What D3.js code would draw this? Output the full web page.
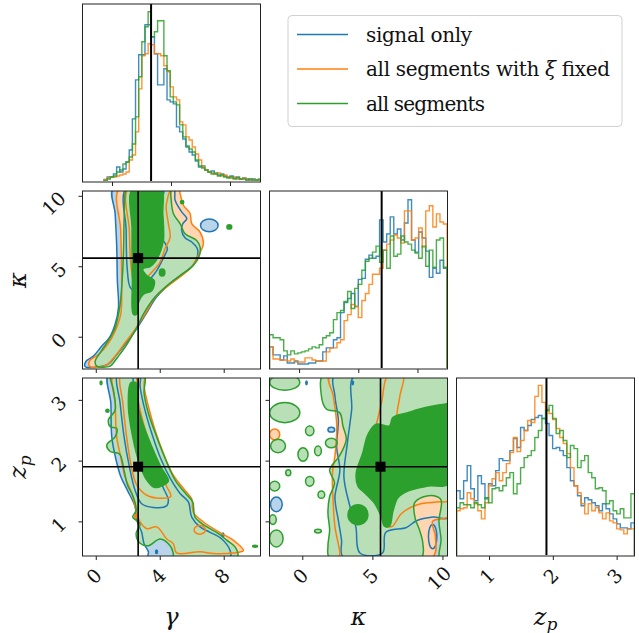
<!DOCTYPE html>
<html>
<head>
<meta charset="utf-8">
<script src="https://cdn.jsdelivr.net/npm/d3@7"></script>
<style>
  body { margin: 0; background: #fff; }
  svg { display: block; }
</style>
</head>
<body>
<svg id="canvas"></svg>
<script>
// ---- data ----
const seriesNames = ["signal only", "all segments with \u03be fixed", "all segments"];
const seriesColors = ["#1f77b4", "#ff7f0e", "#2ca02c"];
const lightFills = ["#b9d3e8", "#ffd5b2", "#b8dfb6"];
const legendWidths = [106, 244, 119];

const truthGamma = 2.65, truthKappa = 5.58, truthZp = 1.9;

// histogram bin ranges (in each diagonal panel's own units)
const gammaBinRange = [-0.54, 10.14];
const kappaBinRange = [-2.0, 10.0];
const zpBinRange = [0.49, 3.28];

// histogram heights (50 bins)
const gammaBlue = [2.5,5,5,8,15,10,13,20,32,63,102,127,127,157,157,145,128,97,97,113,82,80,78,55,50,43,35,30,27,21,15,16,12,10,11,8,7,8,6,5,6,4,5,3,4,3,2,3,2,2];
const gammaOrange = [2,4,5,5,6,7,8,10,22,27,50,93,126,128,138,137,128,128,126,116,110,95,85,82,60,57,45,42,35,28,22,15,12,10,9,8,9,6,7,5,4,5,3,3,4,2,3,2,2,2];
const gammaGreen = [1,3,5,6,10,12,18,20,25,38,65,105,140,155,170,145,150,161,161,126,111,85,80,77,57,45,36,33,30,22,16,14,12,10,8,9,6,7,5,4,5,3,4,3,3,2,3,2,2,3];

const kappaBlue = [22,14,14,9,13,6,6,8,5,5,5,6,6,8,8,17,21,21,29,31,56,66,70,75,62,89,90,109,113,110,112,148,126,134,151,134,139,128,145,168,128,116,136,130,117,91,100,95,108,100];
const kappaOrange = [22,10,10,9,9,8,10,7,7,7,11,11,9,8,8,8,17,21,21,26,29,48,54,64,62,51,68,75,84,94,94,100,118,124,128,133,130,125,157,157,128,130,140,121,157,162,141,154,146,144];
const kappaGreen = [34,31,31,29,18,14,18,15,16,17,18,20,22,21,24,31,33,36,49,56,58,67,77,60,80,84,98,107,110,116,122,106,118,100,132,112,114,132,126,124,118,115,110,122,102,118,101,128,130,101];

const zpBlue = [65,57,75,90,67,55,80,72,57,72,70,85,97,95,95,105,117,108,128,125,130,136,138,140,137,132,120,107,108,105,100,88,75,70,60,50,58,56,53,50,45,52,47,42,37,32,28,28,27,33];
const zpOrange = [45,47,48,63,57,52,45,37,53,70,77,83,75,83,92,103,118,104,115,125,135,133,159,170,153,146,142,136,127,118,112,102,88,70,63,52,42,52,45,48,43,37,43,35,33,27,26,22,27,27];
const zpGreen = [48,53,51,51,48,53,51,48,58,53,67,68,65,70,78,83,62,72,88,98,100,105,118,125,137,145,150,137,122,125,115,98,110,107,88,95,100,83,78,67,68,65,52,55,45,42,47,38,38,62];

// contour outlines, [x, y] in data units
const kgBlueOuter = [[1.10,10.52],[1.21,8.74],[1.31,6.36],[1.35,3.98],[1.42,2.07],[1.21,0.88],[0.85,-0.07],[0.37,-0.67],[-0.15,-1.38],[-0.61,-1.74],[-0.67,-2.12],[-0.04,-2.17],[0.79,-1.93],[1.31,-1.26],[1.98,-0.31],[2.60,0.64],[3.23,1.79],[3.81,2.83],[4.65,3.79],[5.37,4.41],[6.06,5.05],[6.35,5.69],[6.35,6.24],[6.00,6.72],[5.58,7.02],[5.37,7.55],[5.44,8.02],[5.69,8.38],[5.37,8.86],[4.96,9.69],[4.85,10.52]];
const kgBlueInner = [[1.90,10.52],[1.90,7.55],[1.96,4.93],[2.15,3.50],[2.46,3.22],[2.87,3.38],[3.23,3.86],[3.81,4.69],[4.23,5.60],[4.48,6.24],[4.33,6.64],[4.06,7.12],[3.98,8.26],[4.13,9.69],[4.23,10.52]];
const kgOrangeOuter = [[1.48,10.52],[1.56,7.55],[1.62,3.98],[1.56,1.60],[1.21,0.40],[0.73,-0.55],[0.17,-1.26],[-0.40,-1.74],[-0.36,-2.12],[0.65,-2.02],[1.21,-1.38],[1.83,-0.43],[2.46,0.52],[3.08,1.60],[3.71,2.79],[4.54,3.62],[5.37,4.33],[5.98,4.93],[6.35,5.64],[6.73,6.60],[6.52,7.43],[6.00,8.02],[5.90,8.74],[5.48,9.33],[5.27,10.17],[5.17,10.52]];
const kgOrangeInner = [[2.04,10.52],[2.10,7.55],[2.19,5.17],[2.35,3.98],[2.56,3.55],[2.98,3.98],[3.50,4.57],[4.02,5.29],[4.33,6.24],[4.65,7.07],[4.54,8.02],[4.40,9.21],[4.54,10.05],[4.65,10.52]];
const kgGreenOuter = [[0.06,-2.09],[-0.04,-1.74],[0.27,-1.14],[0.90,-0.07],[1.21,0.64],[1.48,1.95],[1.62,3.50],[1.73,5.88],[1.77,8.26],[1.83,10.17],[1.90,10.52],[4.65,10.52],[4.69,10.05],[4.85,8.74],[5.27,8.02],[5.58,7.31],[6.31,6.83],[6.52,6.36],[6.48,5.76],[6.10,5.05],[5.27,4.33],[4.33,3.50],[3.60,2.67],[2.98,1.60],[2.56,0.64],[1.94,-0.55],[1.42,-1.38],[1.10,-1.86],[0.90,-2.09]];
const kgGreenInner = [[2.31,10.52],[4.06,10.52],[4.19,8.74],[4.23,6.83],[4.02,6.00],[3.77,5.41],[3.40,4.98],[2.94,4.81],[3.19,4.33],[3.65,3.98],[3.50,3.26],[2.98,3.02],[2.67,2.43],[2.56,1.60],[2.35,1.60],[2.29,3.98],[2.27,7.55]];
// small islands: [x, y, rx, ry, series, filled-dark]
const kgIslands = [[7.10,7.90,0.55,0.45,0,0],[3.19,9.33,0.28,0.55,0,0],[8.35,7.79,0.15,0.15,2,1],[4.15,4.55,0.17,0.25,2,1],[5.40,9.55,0.1,0.12,2,1]];

const zgBlueOuter = [[0.79,3.41],[0.94,2.95],[1.00,2.39],[1.27,2.01],[1.56,1.74],[1.98,1.51],[2.46,1.24],[2.56,1.02],[2.87,0.82],[3.02,0.63],[3.29,0.50],[3.29,0.41],[8.40,0.41],[8.40,0.52],[7.88,0.71],[7.15,0.82],[6.52,0.91],[6.00,1.07],[5.79,1.32],[5.27,1.46],[4.65,1.71],[4.02,2.06],[3.50,2.45],[3.02,2.89],[2.77,3.22],[2.73,3.41]];
const zgBlueInner = [[1.35,3.41],[1.52,2.95],[1.77,2.39],[2.10,1.90],[2.46,1.51],[2.87,1.29],[3.60,1.23],[4.40,1.25],[4.54,1.35],[4.19,1.57],[3.71,1.95],[3.19,2.34],[2.73,2.78],[2.35,3.17],[2.25,3.41]];
const zgOrangeOuter = [[1.10,3.41],[1.21,2.95],[1.31,2.39],[1.56,2.06],[1.83,1.73],[2.25,1.46],[2.46,1.24],[2.77,0.99],[3.19,0.88],[3.81,0.91],[4.44,0.71],[4.85,0.63],[5.06,0.48],[6.52,0.50],[7.35,0.47],[8.60,0.48],[9.23,0.52],[8.60,0.69],[7.87,0.80],[6.73,0.99],[6.10,1.15],[6.00,1.37],[5.58,1.51],[4.85,1.76],[4.23,2.12],[3.71,2.50],[3.29,2.89],[3.02,3.22],[2.98,3.41]];
const zgOrangeInner = [[1.56,3.41],[1.69,2.95],[1.90,2.45],[2.19,1.95],[2.56,1.60],[3.19,1.43],[4.02,1.38],[4.69,1.41],[4.44,1.57],[3.98,1.84],[3.50,2.17],[2.98,2.61],[2.60,3.06],[2.46,3.41]];
const zgGreenOuter = [[0.94,3.41],[1.10,3.17],[1.21,2.83],[0.79,2.67],[0.90,2.56],[1.31,2.53],[1.21,2.39],[0.69,2.26],[0.90,2.15],[1.48,2.11],[1.77,1.84],[1.98,1.60],[2.35,1.40],[2.52,1.18],[2.31,1.07],[2.77,0.96],[2.52,0.80],[2.77,0.64],[3.29,0.60],[4.02,0.71],[4.65,0.60],[4.85,0.47],[4.85,0.41],[8.85,0.41],[8.71,0.58],[8.19,0.69],[7.67,0.80],[6.83,0.93],[6.21,1.07],[6.06,1.32],[5.58,1.47],[4.96,1.68],[4.33,2.04],[3.81,2.39],[3.29,2.78],[3.02,3.11],[3.02,3.41]];
const zgGreenInner = [[2.19,3.28],[2.04,2.89],[2.31,2.39],[2.73,1.95],[3.19,1.68],[3.65,1.56],[4.27,1.60],[4.54,1.67],[4.06,1.90],[3.50,2.23],[2.94,2.61],[2.60,2.95],[2.52,3.28]];
const zgIslands = [[0.33,3.28,0.06,0.03,2,1],[0.73,2.82,0.1,0.025,2,1],[9.96,0.59,0.15,0.015,2,1],[3.80,0.50,0.06,0.03,0,1],[7.95,0.78,0.06,0.03,0,1],[6.50,0.86,0.35,0.07,1,0],[2.50,1.08,0.06,0.03,1,1]];

const zkBlueOuter = [[2.33,3.41],[2.33,3.06],[2.57,2.67],[2.45,2.23],[2.68,1.84],[2.33,1.40],[2.57,1.02],[2.80,0.69],[2.92,0.41],[10.52,0.41],[10.52,3.41]];
const zkBlueInner = [[3.75,3.41],[3.52,2.83],[3.21,2.28],[2.97,1.73],[3.35,1.29],[3.82,0.91],[4.11,0.48],[5.72,0.48],[5.96,0.82],[7.43,0.90],[8.15,1.01],[9.33,1.07],[10.52,1.07],[10.52,3.41]];
const zkOrangeOuter = [[1.95,3.41],[2.21,3.06],[2.45,2.61],[2.35,2.12],[2.15,1.79],[2.21,1.29],[2.33,0.91],[2.68,0.49],[2.68,0.41],[9.3,0.41],[9.5,0.75],[9.3,1.0],[10.52,1.1],[10.52,3.41]];
const zkOrangeInner = [[6.13,3.41],[5.65,2.95],[5.18,2.50],[4.63,2.06],[4.82,1.73],[5.34,1.40],[5.82,0.99],[6.36,0.91],[7.08,1.13],[8.15,1.27],[9.57,1.32],[10.52,1.35],[10.52,2.17],[9.33,2.23],[8.15,2.34],[7.20,2.31],[6.72,2.61],[6.96,3.06],[7.20,3.41]];
const zkGreenOuter = [[1.59,3.45],[1.36,3.07],[1.71,2.85],[2.66,2.79],[2.90,2.57],[3.14,2.35],[2.66,2.08],[1.95,1.85],[2.30,1.63],[1.95,1.41],[1.83,1.14],[1.95,0.86],[1.83,0.59],[1.95,0.40],[8.48,0.40],[8.60,0.64],[8.36,0.86],[8.05,1.05],[8.00,1.30],[8.60,1.40],[9.40,1.42],[9.90,1.35],[9.75,1.00],[9.90,0.70],[9.80,0.40],[10.52,0.40],[10.52,3.45]];
const zkGreenInner = [[3.85,1.80],[4.32,2.13],[4.68,2.43],[5.27,2.60],[6.22,2.57],[6.46,2.71],[7.53,2.79],[8.72,2.87],[10.14,2.93],[10.52,2.93],[10.52,1.63],[8.95,1.58],[7.53,1.50],[6.82,1.39],[6.46,1.16],[6.22,0.92],[5.86,0.92],[5.63,1.08],[5.15,1.30],[4.44,1.47],[3.97,1.58]];
const zkIslands = [[-1.25,3.29,1.07,0.13,2,0],[-1.25,2.79,1.07,0.165,2,0],[-1.73,2.24,0.53,0.11,2,0],[0.53,2.49,0.30,0.08,2,0],[1.12,2.16,0.24,0.08,2,0],[0.05,2.10,0.36,0.11,2,0],[2.07,2.29,0.42,0.08,2,0],[-1.97,1.58,0.36,0.08,2,0],[0.53,1.66,0.30,0.08,2,0],[-2.10,1.03,0.24,0.08,2,0],[-1.85,0.72,0.48,0.14,2,0],[1.12,0.84,0.24,0.03,2,0],[1.36,1.44,0.24,0.06,2,0],[-1.00,1.80,0.18,0.05,2,0],[-1.85,1.28,0.42,0.12,0,0],[-1.97,2.43,0.36,0.09,1,0],[2.07,2.51,0.24,0.04,0,0],[3.97,1.11,0.71,0.165,2,1],[0.3,3.28,0.05,0.03,0,1],[3.6,3.28,0.05,0.03,0,1],[9.3,0.75,0.3,0.2,0,0]];

// ---- layout ----
const width = 639;
const height = 633;
const panel = 178;
const colX = [82.5, 269.5, 456.5];
const rowY = [4, 191, 378];
const serif = "DejaVu Serif";

const svg = d3.select("#canvas")
    .attr("width", width)
    .attr("height", height);

// scales for the off-diagonal panels
const gamma2D = d3.scaleLinear().domain([-0.83, 10.3]).range([colX[0], colX[0] + panel]);
const kappaX2D = d3.scaleLinear().domain([-2.34, 10.36]).range([colX[1], colX[1] + panel]);
const kappaY2D = d3.scaleLinear().domain([-2.29, 10.34]).range([rowY[1] + panel, rowY[1]]);
const zpY2D = d3.scaleLinear().domain([0.43, 3.36]).range([rowY[2] + panel, rowY[2]]);

// scales for the diagonal histograms
const gammaHistX = d3.scaleLinear().domain([-2, 10.07]).range([colX[0], colX[0] + panel]);
const kappaHistX = d3.scaleLinear().domain([-2, 10.03]).range([colX[1], colX[1] + panel]);
const zpHistX = d3.scaleLinear().domain([0.49, 3.28]).range([colX[2], colX[2] + panel]);

const defs = svg.append("defs");

function clipFor(id, x, y) {
    defs.append("clipPath").attr("id", id)
        .append("rect").attr("x", x).attr("y", y).attr("width", panel).attr("height", panel);
    return `url(#${id})`;
}

function renderHist(id, col, row, xScale, binRange, series, ymax, truth) {
    const x0 = colX[col], y0 = rowY[row];
    const yScale = d3.scaleLinear().domain([0, ymax]).range([y0 + panel, y0]);
    const g = svg.append("g").attr("clip-path", clipFor(id, x0, y0 - 1));
    const n = series[0].length;
    const edge = d3.scaleLinear().domain([0, n]).range(binRange);
    const line = d3.line()
        .x(d => xScale(d[0]))
        .y(d => yScale(d[1]))
        .curve(d3.curveStepAfter);
    series.forEach((vals, k) => {
        const pts = [[edge(0), 0]];
        vals.forEach((v, i) => pts.push([edge(i), v]));
        pts.push([edge(n), vals[n - 1]]);
        pts.push([edge(n), 0]);
        g.append("path")
            .attr("d", line(pts))
            .attr("fill", "none")
            .attr("stroke", seriesColors[k])
            .attr("stroke-width", 1.4)
            .attr("stroke-opacity", 0.85);
    });
    g.append("line")
        .attr("x1", xScale(truth)).attr("x2", xScale(truth))
        .attr("y1", y0).attr("y2", y0 + panel)
        .attr("stroke", "#000").attr("stroke-width", 2);
}

function render2D(id, col, row, xScale, yScale, layers, islands, truth) {
    const x0 = colX[col], y0 = rowY[row];
    const g = svg.append("g").attr("clip-path", clipFor(id, x0, y0));
    const path = d3.line()
        .x(d => xScale(d[0]))
        .y(d => yScale(d[1]))
        .curve(d3.curveCatmullRomClosed.alpha(0.5));
    const islandsOf = k => islands.filter(s => s[4] === k);
    const ellipse = (sel, s) => sel
        .attr("cx", xScale(s[0])).attr("cy", yScale(s[1]))
        .attr("rx", Math.abs(xScale(s[0] + s[2]) - xScale(s[0])))
        .attr("ry", Math.abs(yScale(s[1] + s[3]) - yScale(s[1])));

    // light outer fills
    layers.forEach((layer, k) => {
        g.append("path").attr("d", path(layer.outer))
            .attr("fill", lightFills[k]).attr("stroke", "none");
        islandsOf(k).filter(s => !s[5]).forEach(s => {
            g.append("ellipse").call(ellipse, s).attr("fill", lightFills[k]);
        });
    });
    // blue and orange outlines
    [0, 1].forEach(k => {
        [layers[k].outer, layers[k].inner].forEach(poly => {
            g.append("path").attr("d", path(poly))
                .attr("fill", "none")
                .attr("stroke", seriesColors[k])
                .attr("stroke-width", 1.5);
        });
        islandsOf(k).forEach(s => {
            g.append("ellipse").call(ellipse, s)
                .attr("fill", s[5] ? seriesColors[k] : "none")
                .attr("stroke", seriesColors[k]).attr("stroke-width", 1.5);
        });
    });
    // dark green core and green outlines
    g.append("path").attr("d", path(layers[2].inner))
        .attr("fill", seriesColors[2]).attr("stroke", seriesColors[2]).attr("stroke-width", 1.5);
    g.append("path").attr("d", path(layers[2].outer))
        .attr("fill", "none").attr("stroke", seriesColors[2]).attr("stroke-width", 1.5);
    islandsOf(2).forEach(s => {
        g.append("ellipse").call(ellipse, s)
            .attr("fill", s[5] ? seriesColors[2] : "none")
            .attr("stroke", seriesColors[2]).attr("stroke-width", 1.5);
    });

    g.append("line")
        .attr("x1", xScale(truth[0])).attr("x2", xScale(truth[0]))
        .attr("y1", y0).attr("y2", y0 + panel)
        .attr("stroke", "#000").attr("stroke-width", 1.6);
    g.append("line")
        .attr("x1", x0).attr("x2", x0 + panel)
        .attr("y1", yScale(truth[1])).attr("y2", yScale(truth[1]))
        .attr("stroke", "#000").attr("stroke-width", 1.6);
    g.append("rect")
        .attr("x", xScale(truth[0]) - 5).attr("y", yScale(truth[1]) - 5)
        .attr("width", 10).attr("height", 10)
        .attr("fill", "#000");
}

function frame(col, row) {
    svg.append("rect")
        .attr("x", colX[col]).attr("y", rowY[row])
        .attr("width", panel).attr("height", panel)
        .attr("fill", "none").attr("stroke", "#222").attr("stroke-width", 1);
}

function bottomAxis(col, row, scale, ticks, labelled) {
    const ax = svg.append("g")
        .attr("transform", `translate(0, ${rowY[row] + panel})`)
        .call(d3.axisBottom(scale).tickValues(ticks).tickSize(4).tickSizeOuter(0)
            .tickFormat(labelled ? d3.format("d") : ""));
    ax.select(".domain").remove();
    ax.selectAll("line").attr("stroke", "#222");
    ax.selectAll("text")
        .attr("y", null).attr("dy", null)
        .attr("text-anchor", "middle")
        .attr("dominant-baseline", "central")
        .attr("font-family", serif)
        .attr("font-size", 19)
        .attr("fill", "#111")
        .attr("transform", d => {
            const len = String(d).length;
            return `translate(${-1 - 1.5 * len}, ${18 + 2 * len}) rotate(-45)`;
        });
}

function leftAxis(col, row, scale, ticks, labelled) {
    const ax = svg.append("g")
        .attr("transform", `translate(${colX[col]}, 0)`)
        .call(d3.axisLeft(scale).tickValues(ticks).tickSize(4).tickSizeOuter(0)
            .tickFormat(labelled ? d3.format("d") : ""));
    ax.select(".domain").remove();
    ax.selectAll("line").attr("stroke", "#222");
    ax.selectAll("text")
        .attr("x", null).attr("dy", null)
        .attr("text-anchor", "middle")
        .attr("dominant-baseline", "central")
        .attr("font-family", serif)
        .attr("font-size", 19)
        .attr("fill", "#111")
        .attr("transform", d => {
            const len = String(d).length;
            return `translate(${-19 - 5 * len}, ${len * 4 - 1}) rotate(-45)`;
        });
}

// ---- diagonal ----
renderHist("cg", 0, 0, gammaHistX, gammaBinRange, [gammaBlue, gammaOrange, gammaGreen], 177.7, truthGamma);
renderHist("ck", 1, 1, kappaHistX, kappaBinRange, [kappaBlue, kappaOrange, kappaGreen], 176.7, truthKappa);
renderHist("cz", 2, 2, zpHistX, zpBinRange, [zpBlue, zpOrange, zpGreen], 177.3, truthZp);

// ---- off-diagonal ----
render2D("kg", 0, 1, gamma2D, kappaY2D,
    [{ outer: kgBlueOuter, inner: kgBlueInner }, { outer: kgOrangeOuter, inner: kgOrangeInner }, { outer: kgGreenOuter, inner: kgGreenInner }],
    kgIslands, [truthGamma, truthKappa]);
render2D("zg", 0, 2, gamma2D, zpY2D,
    [{ outer: zgBlueOuter, inner: zgBlueInner }, { outer: zgOrangeOuter, inner: zgOrangeInner }, { outer: zgGreenOuter, inner: zgGreenInner }],
    zgIslands, [truthGamma, truthZp]);
render2D("zk", 1, 2, kappaX2D, zpY2D,
    [{ outer: zkBlueOuter, inner: zkBlueInner }, { outer: zkOrangeOuter, inner: zkOrangeInner }, { outer: zkGreenOuter, inner: zkGreenInner }],
    zkIslands, [truthKappa, truthZp]);

[[0, 0], [0, 1], [1, 1], [0, 2], [1, 2], [2, 2]].forEach(([c, r]) => frame(c, r));

// ---- axes ----
bottomAxis(0, 0, gammaHistX, [0, 4, 8], false);
bottomAxis(0, 1, gamma2D, [0, 4, 8], false);
bottomAxis(1, 1, kappaHistX, [0, 4, 8], false);
bottomAxis(0, 2, gamma2D, [0, 4, 8], true);
bottomAxis(1, 2, kappaX2D, [0, 5, 10], true);
bottomAxis(2, 2, zpHistX, [1, 2, 3], true);
leftAxis(0, 1, kappaY2D, [0, 5, 10], true);
leftAxis(0, 2, zpY2D, [1, 2, 3], true);
leftAxis(1, 2, zpY2D, [1, 2, 3], false);

// axis titles
const labelSize = 24;
function xTitle(col, parts) {
    const t = svg.append("text")
        .attr("x", colX[col] + panel / 2).attr("y", 625)
        .attr("text-anchor", "middle")
        .attr("font-family", serif)
        .attr("font-size", labelSize).attr("font-style", "italic").attr("fill", "#111");
    parts(t);
}
function yTitle(row, parts) {
    const t = svg.append("text")
        .attr("transform", `translate(26, ${rowY[row] + panel / 2}) rotate(-90)`)
        .attr("text-anchor", "middle")
        .attr("font-family", serif)
        .attr("font-size", labelSize).attr("font-style", "italic").attr("fill", "#111");
    parts(t);
}
const plain = s => t => t.text(s);
const zpLabel = t => {
    t.append("tspan").text("z");
    t.append("tspan").attr("font-size", 17).attr("dy", 5).text("p");
};
xTitle(0, plain("\u03b3"));
xTitle(1, plain("\u03ba"));
xTitle(2, zpLabel);
yTitle(1, plain("\u03ba"));
yTitle(2, zpLabel);

// ---- legend ----
const legend = svg.append("g").attr("transform", "translate(288, 15.5)");
legend.append("rect")
    .attr("width", 334).attr("height", 111).attr("rx", 4)
    .attr("fill", "#fff").attr("fill-opacity", 0.8)
    .attr("stroke", "#d0d0d0").attr("stroke-width", 1);
seriesNames.forEach((name, i) => {
    const y = 19 + i * 34.5;
    legend.append("line")
        .attr("x1", 9).attr("x2", 60).attr("y1", y).attr("y2", y)
        .attr("stroke", seriesColors[i]).attr("stroke-width", 1.5);
    const t = legend.append("text")
        .attr("x", 78).attr("y", y + 7)
        .attr("font-family", serif)
        .attr("font-size", 20)
        .attr("fill", "#111")
        .attr("textLength", legendWidths[i])
        .attr("lengthAdjust", "spacing");
    if (name.includes("\u03be")) {
        const [a, b] = name.split("\u03be");
        t.append("tspan").text(a);
        t.append("tspan").attr("font-style", "italic").text("\u03be");
        t.append("tspan").text(b);
    } else {
        t.text(name);
    }
});
</script>
</body>
</html>
